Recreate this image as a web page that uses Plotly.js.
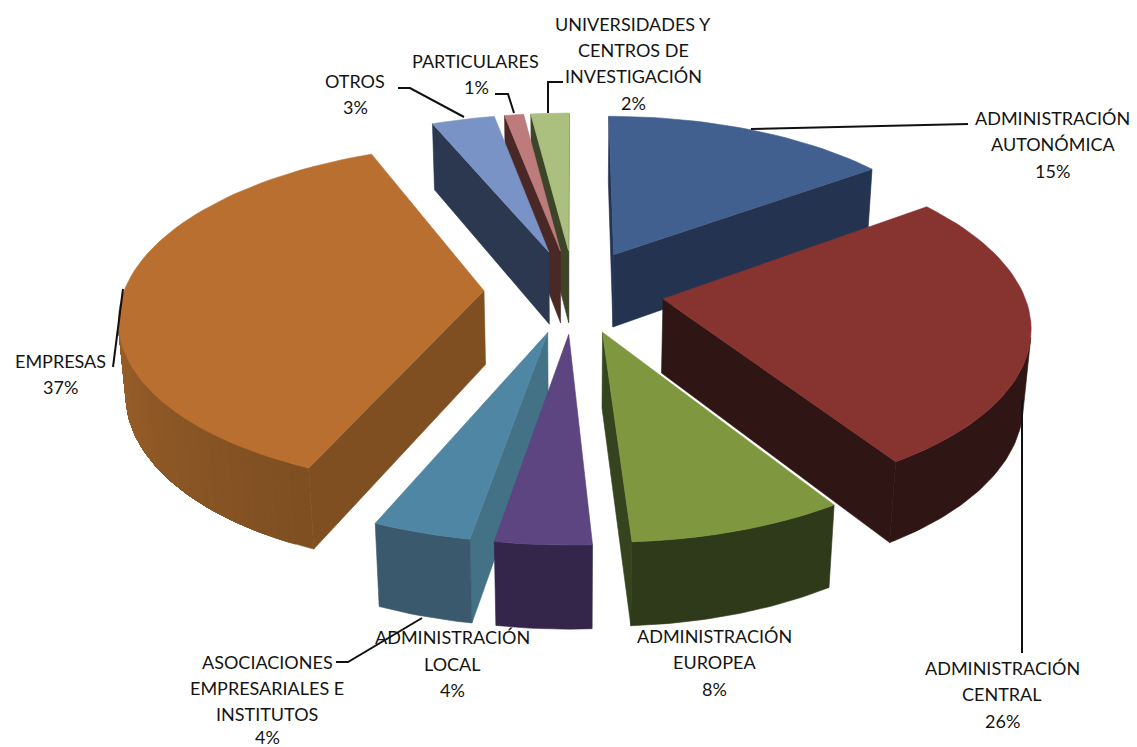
<!DOCTYPE html>
<html><head><meta charset="utf-8">
<script src="https://cdn.plot.ly/plotly-3.0.1.min.js"></script>
<style>html,body{margin:0;padding:0;background:#fff}</style></head>
<body><div id="chart" style="width:1137px;height:747px"></div>
<script>
// ---- chart data (clockwise from 12 o'clock) ----
const categories = ["ADMINISTRACIÓN AUTONÓMICA","ADMINISTRACIÓN CENTRAL","ADMINISTRACIÓN EUROPEA","ADMINISTRACIÓN LOCAL","ASOCIACIONES EMPRESARIALES E INSTITUTOS","EMPRESAS","OTROS","PARTICULARES","UNIVERSIDADES Y CENTROS DE INVESTIGACIÓN"];
const values = [15,26,8.1,3.6,3.7,37.3,3.3,1,2];
const percentLabels = ["15%","26%","8%","4%","4%","37%","3%","1%","2%"];
// ---- styling ----
const topColors  = ["#41608f","#873330","#7f983f","#5c4580","#4f86a3","#b86f30","#7a93c6","#bd7b7c","#abbf7e"];
const wallColors = ["#233350","#2f1614","#2e3a1a","#33264a","#3a596c","#7f4f22","#2c3750","#4a2826","#3c4528"];
const sideColors = ["#233350","#2f1614","#36431f","#33264a","#437186","#7f4f22","#2c3750","#4a2826","#3c4528"];
const drawOrder  = [8,7,6,0,5,1,4,3,2];
const view = {cx:574, cy:291, A:360, B:167.5, p:0.141, q:0.017, D:75, explode:0.25};

function project(X,Y,Z){
  const den = 1 + view.p*Y + view.q*Z;
  return [view.cx + view.A*X/den, view.cy + (-view.B*Y + view.D*Z)/den];
}
function shade(hex,f){
  const n=parseInt(hex.slice(1),16);
  const c=[n>>16,(n>>8)&255,n&255].map(v=>Math.min(255,Math.round(v*f)));
  return `rgb(${c[0]},${c[1]},${c[2]})`;
}
function poly(points,color){
  const xs=points.map(p=>p[0]), ys=points.map(p=>p[1]);
  xs.push(xs[0]); ys.push(ys[0]);
  return {type:"scatter",mode:"lines",x:xs,y:ys,fill:"toself",fillcolor:color,
    line:{color:color,width:0.6},hoverinfo:"skip",showlegend:false};
}
function area(q){let s=0;for(let i=0;i<q.length;i++){const a=q[i],b=q[(i+1)%q.length];s+=a[0]*b[1]-b[0]*a[1];}return s/2;}

const total = values.reduce((a,b)=>a+b,0);
let acc=0;
const slices = values.map(v=>{const a0=acc/total*2*Math.PI; acc+=v; return {a0,a1:acc/total*2*Math.PI};});
const traces=[];
drawOrder.forEach(i=>{
  const {a0,a1}=slices[i], mid=(a0+a1)/2;
  const ox=view.explode*Math.sin(mid), oy=view.explode*Math.cos(mid);
  const pt=(a,z)=>project(ox+Math.sin(a),oy+Math.cos(a),z);
  const apex=z=>project(ox,oy,z);
  const face=(q,color)=>{ if(area(q)>0) traces.push(poly(q,color)); };
  // radial walls
  face([apex(0),pt(a0,0),pt(a0,1),apex(1)].reverse(),sideColors[i]);
  face([apex(0),pt(a1,0),pt(a1,1),apex(1)],sideColors[i]);
  // outer wall: visible span only, later bands painted over earlier ones
  const step=Math.PI/180, n=Math.max(1,Math.ceil((a1-a0)/step));
  const at=k=>a0+(a1-a0)*k/n;
  let first=-1,last=-1;
  for(let k=0;k<n;k++){
    if(area([pt(at(k),0),pt(at(k+1),0),pt(at(k+1),1),pt(at(k),1)].reverse())>0){ if(first<0) first=k; last=k+1; }
  }
  if(first>=0){
    let prev=null;
    for(let k=first;k<last;k++){
      const deg=at(k)*180/Math.PI;
      const c=shade(wallColors[i],1+0.25*Math.max(0,Math.min(1,(deg-205)/65)));
      if(c===prev) continue;
      prev=c;
      const upper=[],lower=[];
      for(let j=k;j<=last;j++){upper.push(pt(at(j),0));lower.unshift(pt(at(j),1));}
      traces.push(poly(upper.concat(lower),c));
    }
  }
  // top
  const top=[apex(0)];
  const m=Math.max(4,Math.round((a1-a0)/(2*Math.PI/180)));
  for(let k=0;k<=m;k++) top.push(pt(a0+(a1-a0)*k/m,0));
  traces.push(poly(top,topColors[i]));
});

// ---- label placement ----
const labelLines=[
 ["ADMINISTRACIÓN",1052,118],["AUTONÓMICA",1053,144],["15%",1052,171],
 ["ADMINISTRACIÓN",1002,668],["CENTRAL",1002,694],["26%",1002,721],
 ["ADMINISTRACIÓN",714,636],["EUROPEA",714,662],["8%",714,689],
 ["ADMINISTRACIÓN",452,637],["LOCAL",452,664],["4%",452,690],
 ["ASOCIACIONES",267,662],["EMPRESARIALES E",267,688],["INSTITUTOS",267,714],["4%",267,737],
 ["EMPRESAS",60,361],["37%",60,387],
 ["OTROS",355,81],["3%",355,107],
 ["PARTICULARES",475,61],["1%",476,87],
 ["UNIVERSIDADES Y",633,24],["CENTROS DE",633,50],["INVESTIGACIÓN",633,76],["2%",633,103]
];
const leaders=[
 "M968,124 L751,129",
 "M1022,653 L1022,400",
 "M336,662 L348,662 L422,618",
 "M113,367 L123,289",
 "M398,88 L410,88 L464,117",
 "M495,94 L508,94 L514,113",
 "M563,82 L548,82 L548,113"
];
const layout={
  width:1137,height:747,margin:{l:0,r:0,t:0,b:0},
  paper_bgcolor:"#fff",plot_bgcolor:"#fff",showlegend:false,
  xaxis:{range:[0,1137],visible:false,fixedrange:true},
  yaxis:{range:[747,0],visible:false,fixedrange:true},
  annotations:labelLines.map(l=>({text:l[0],x:l[1],y:l[2],xref:"x",yref:"y",showarrow:false,
    xanchor:"center",yanchor:"middle",font:{family:"Lato, sans-serif",size:18,color:"#141414"}})),
  shapes:leaders.map(d=>({type:"path",path:d,xref:"x",yref:"y",layer:"above",line:{color:"#111",width:2}}))
};
Plotly.newPlot("chart",traces,layout,{displayModeBar:false,staticPlot:true});
</script></body></html>
